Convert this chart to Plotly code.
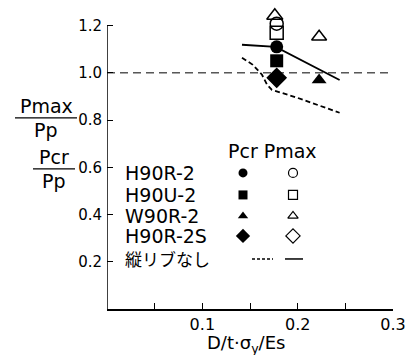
import plotly.graph_objects as go

# ---- data -------------------------------------------------------------
specimens = ["H90R-2", "H90U-2", "W90R-2", "H90R-2S"]
symbols = ["circle", "square", "triangle-up", "diamond"]

# buckling load ratio Pcr/Pp
pcr_x = [0.178, 0.178, 0.2225, 0.178]
pcr_y = [1.110, 1.051, 0.970, 0.979]
# maximum load ratio Pmax/Pp
pmax_x = [0.178, 0.178, 0.2225, 0.178]
pmax_y = [1.208, 1.170, 1.153, 0.979]
# the top triangle in the column above the circles
pmax_extra_x = [0.176]
pmax_extra_y = [1.242]

# no longitudinal rib: Pcr (dashed) and Pmax (solid) curves
norib_pcr_x = [0.1416, 0.153, 0.1626, 0.168, 0.173, 0.200, 0.244]
norib_pcr_y = [1.064, 1.034, 0.992, 0.949, 0.928, 0.894, 0.831]
norib_pmax_x = [0.1416, 0.177, 0.244]
norib_pmax_y = [1.119, 1.110, 0.970]

ref_x = [0.0, 0.3]
ref_y = [1.0, 1.0]

x_ticks = [0.1, 0.2, 0.3]
x_ticktext = ["0.1", "0.2", "0.3"]
x_minor = [0.05, 0.15, 0.25]
y_ticks = [0.2, 0.4, 0.6, 0.8, 1.0, 1.2]
y_ticktext = ["0.2", "0.4", "0.6", "0.8", "1.0", "1.2"]
y_axis_top = 1.2

legend_rows = specimens + ["縦リブなし"]

# ---- geometry ---------------------------------------------------------
W, H = 420, 355
Y_MAX = 1.3
L, R, B = 107, 27, 46
PW = W - L - R
UNIT = 236.0                      # pixels per 1.0 on the y axis
PH = Y_MAX * UNIT
T = H - B - PH

FONT = "DejaVu Sans"
JP = "Noto Sans CJK JP"


def px_x(px):
    return (px - L) / PW


def px_y(py):
    return (H - B - py) / PH


fig = go.Figure()

# reference line at 1.0
fig.add_trace(go.Scatter(x=ref_x, y=ref_y, mode="lines",
                         line=dict(color="black", width=1, dash="8px,5px"),
                         showlegend=False, hoverinfo="skip"))
# no-rib curves
fig.add_trace(go.Scatter(x=norib_pcr_x, y=norib_pcr_y, mode="lines",
                         line=dict(color="black", width=1.8, dash="5px,3px"),
                         showlegend=False))
fig.add_trace(go.Scatter(x=norib_pmax_x, y=norib_pmax_y, mode="lines",
                         line=dict(color="black", width=1.8),
                         showlegend=False))

# Pmax markers (open)
for i, name in enumerate(specimens):
    fig.add_trace(go.Scatter(x=[pmax_x[i]], y=[pmax_y[i]], mode="markers",
                             marker=dict(symbol=symbols[i] + "-open", size=13,
                                         color="black", line=dict(width=1.5, color="black")),
                             cliponaxis=False, showlegend=False, name=name + " Pmax"))
fig.add_trace(go.Scatter(x=pmax_extra_x, y=pmax_extra_y, mode="markers",
                         marker=dict(symbol="triangle-up-open", size=14, color="black",
                                     line=dict(width=1.5, color="black")),
                         cliponaxis=False, showlegend=False))
# Pcr markers (filled)
for i, name in enumerate(specimens):
    fig.add_trace(go.Scatter(x=[pcr_x[i]], y=[pcr_y[i]], mode="markers",
                             marker=dict(symbol=symbols[i], size=13 if i != 3 else 16,
                                         color="black", line=dict(width=0)),
                             cliponaxis=False, showlegend=False, name=name + " Pcr"))

# ---- hand-built legend on a pixel-space overlay -----------------------
row_y = [173, 195, 216, 236, 259]
col_pcr, col_pmax = 243, 293
for i in range(len(specimens)):
    fig.add_trace(go.Scatter(x=[col_pcr], y=[row_y[i]], xaxis="x2", yaxis="y2",
                             mode="markers", cliponaxis=False, showlegend=False,
                             marker=dict(symbol=symbols[i], size=9 if i != 3 else 11,
                                         color="black")))
    fig.add_trace(go.Scatter(x=[col_pmax], y=[row_y[i]], xaxis="x2", yaxis="y2",
                             mode="markers", cliponaxis=False, showlegend=False,
                             marker=dict(symbol=symbols[i] + "-open", size=9 if i != 3 else 11,
                                         color="black", line=dict(width=1.2, color="black"))))
fig.add_trace(go.Scatter(x=[252, 273], y=[row_y[4], row_y[4]], xaxis="x2", yaxis="y2",
                         mode="lines", cliponaxis=False, showlegend=False,
                         line=dict(color="black", width=1.5, dash="3px,2px")))
fig.add_trace(go.Scatter(x=[285, 303], y=[row_y[4], row_y[4]], xaxis="x2", yaxis="y2",
                         mode="lines", cliponaxis=False, showlegend=False,
                         line=dict(color="black", width=1.5)))

annotations = []
for i, label in enumerate(legend_rows):
    annotations.append(dict(x=px_x(123), y=px_y(row_y[i]), xref="paper", yref="paper",
                            text=label, showarrow=False, xanchor="left", yanchor="middle",
                            font=dict(family=FONT if i < 4 else JP,
                                      size=19 if i < 4 else 17, color="black")))
annotations.append(dict(x=px_x(226), y=px_y(151), xref="paper", yref="paper",
                        text="Pcr Pmax", showarrow=False, xanchor="left", yanchor="middle",
                        font=dict(family=FONT, size=19, color="black")))

# y-axis title as two stacked fractions
for num, num_y, bar_y, den_y, x0, x1 in [("Pmax", 106, 118, 130, 15, 77),
                                         ("Pcr", 157, 169, 181, 33, 75)]:
    cx = (x0 + x1) / 2
    annotations.append(dict(x=px_x(cx), y=px_y(num_y), xref="paper", yref="paper",
                            text=num, showarrow=False, xanchor="center", yanchor="middle",
                            font=dict(family=FONT, size=19, color="black")))
    annotations.append(dict(x=px_x(cx), y=px_y(den_y), xref="paper", yref="paper",
                            text="Pp", showarrow=False, xanchor="center", yanchor="middle",
                            font=dict(family=FONT, size=19, color="black")))
    fig.add_shape(type="line", xref="paper", yref="paper",
                  x0=px_x(x0), x1=px_x(x1), y0=px_y(bar_y), y1=px_y(bar_y),
                  line=dict(color="black", width=1.2))

# x-axis title
annotations.append(dict(x=px_x(246), y=px_y(344), xref="paper", yref="paper",
                        text="D/t·σ<sub>y</sub>/Es", showarrow=False,
                        xanchor="center", yanchor="middle",
                        font=dict(family=FONT, size=18, color="black")))

# left axis line, stopping at the top tick
fig.add_shape(type="line", xref="x", yref="y", x0=0, x1=0, y0=0, y1=y_axis_top,
              line=dict(color="black", width=1.5))

fig.update_layout(
    width=W, height=H,
    margin=dict(l=L, r=R, t=T, b=B, pad=0),
    paper_bgcolor="white", plot_bgcolor="white",
    font=dict(family=FONT, color="black"),
    annotations=annotations,
    xaxis=dict(range=[0, 0.3], tickvals=x_ticks, ticktext=x_ticktext,
               ticks="inside", ticklen=6, tickwidth=1.3, tickcolor="black",
               minor=dict(tickvals=x_minor, ticks="inside", ticklen=6,
                          tickwidth=1.3, tickcolor="black", showgrid=False),
               showline=True, linecolor="black", linewidth=1.5,
               showgrid=False, zeroline=False,
               tickfont=dict(family=FONT, size=16, color="black")),
    yaxis=dict(range=[0, Y_MAX], tickvals=y_ticks, ticktext=y_ticktext,
               ticks="inside", ticklen=6, tickwidth=1.3, tickcolor="black",
               showline=False, showgrid=False, zeroline=False, ticklabelstandoff=4,
               tickfont=dict(family=FONT, size=15, color="black")),
    xaxis2=dict(range=[L, W - R], overlaying="x", visible=False, domain=[0, 1],
                showticklabels=False),
    yaxis2=dict(range=[H - B, T], overlaying="y", visible=False, domain=[0, 1],
                showticklabels=False),
)

fig.write_html("out.html")
